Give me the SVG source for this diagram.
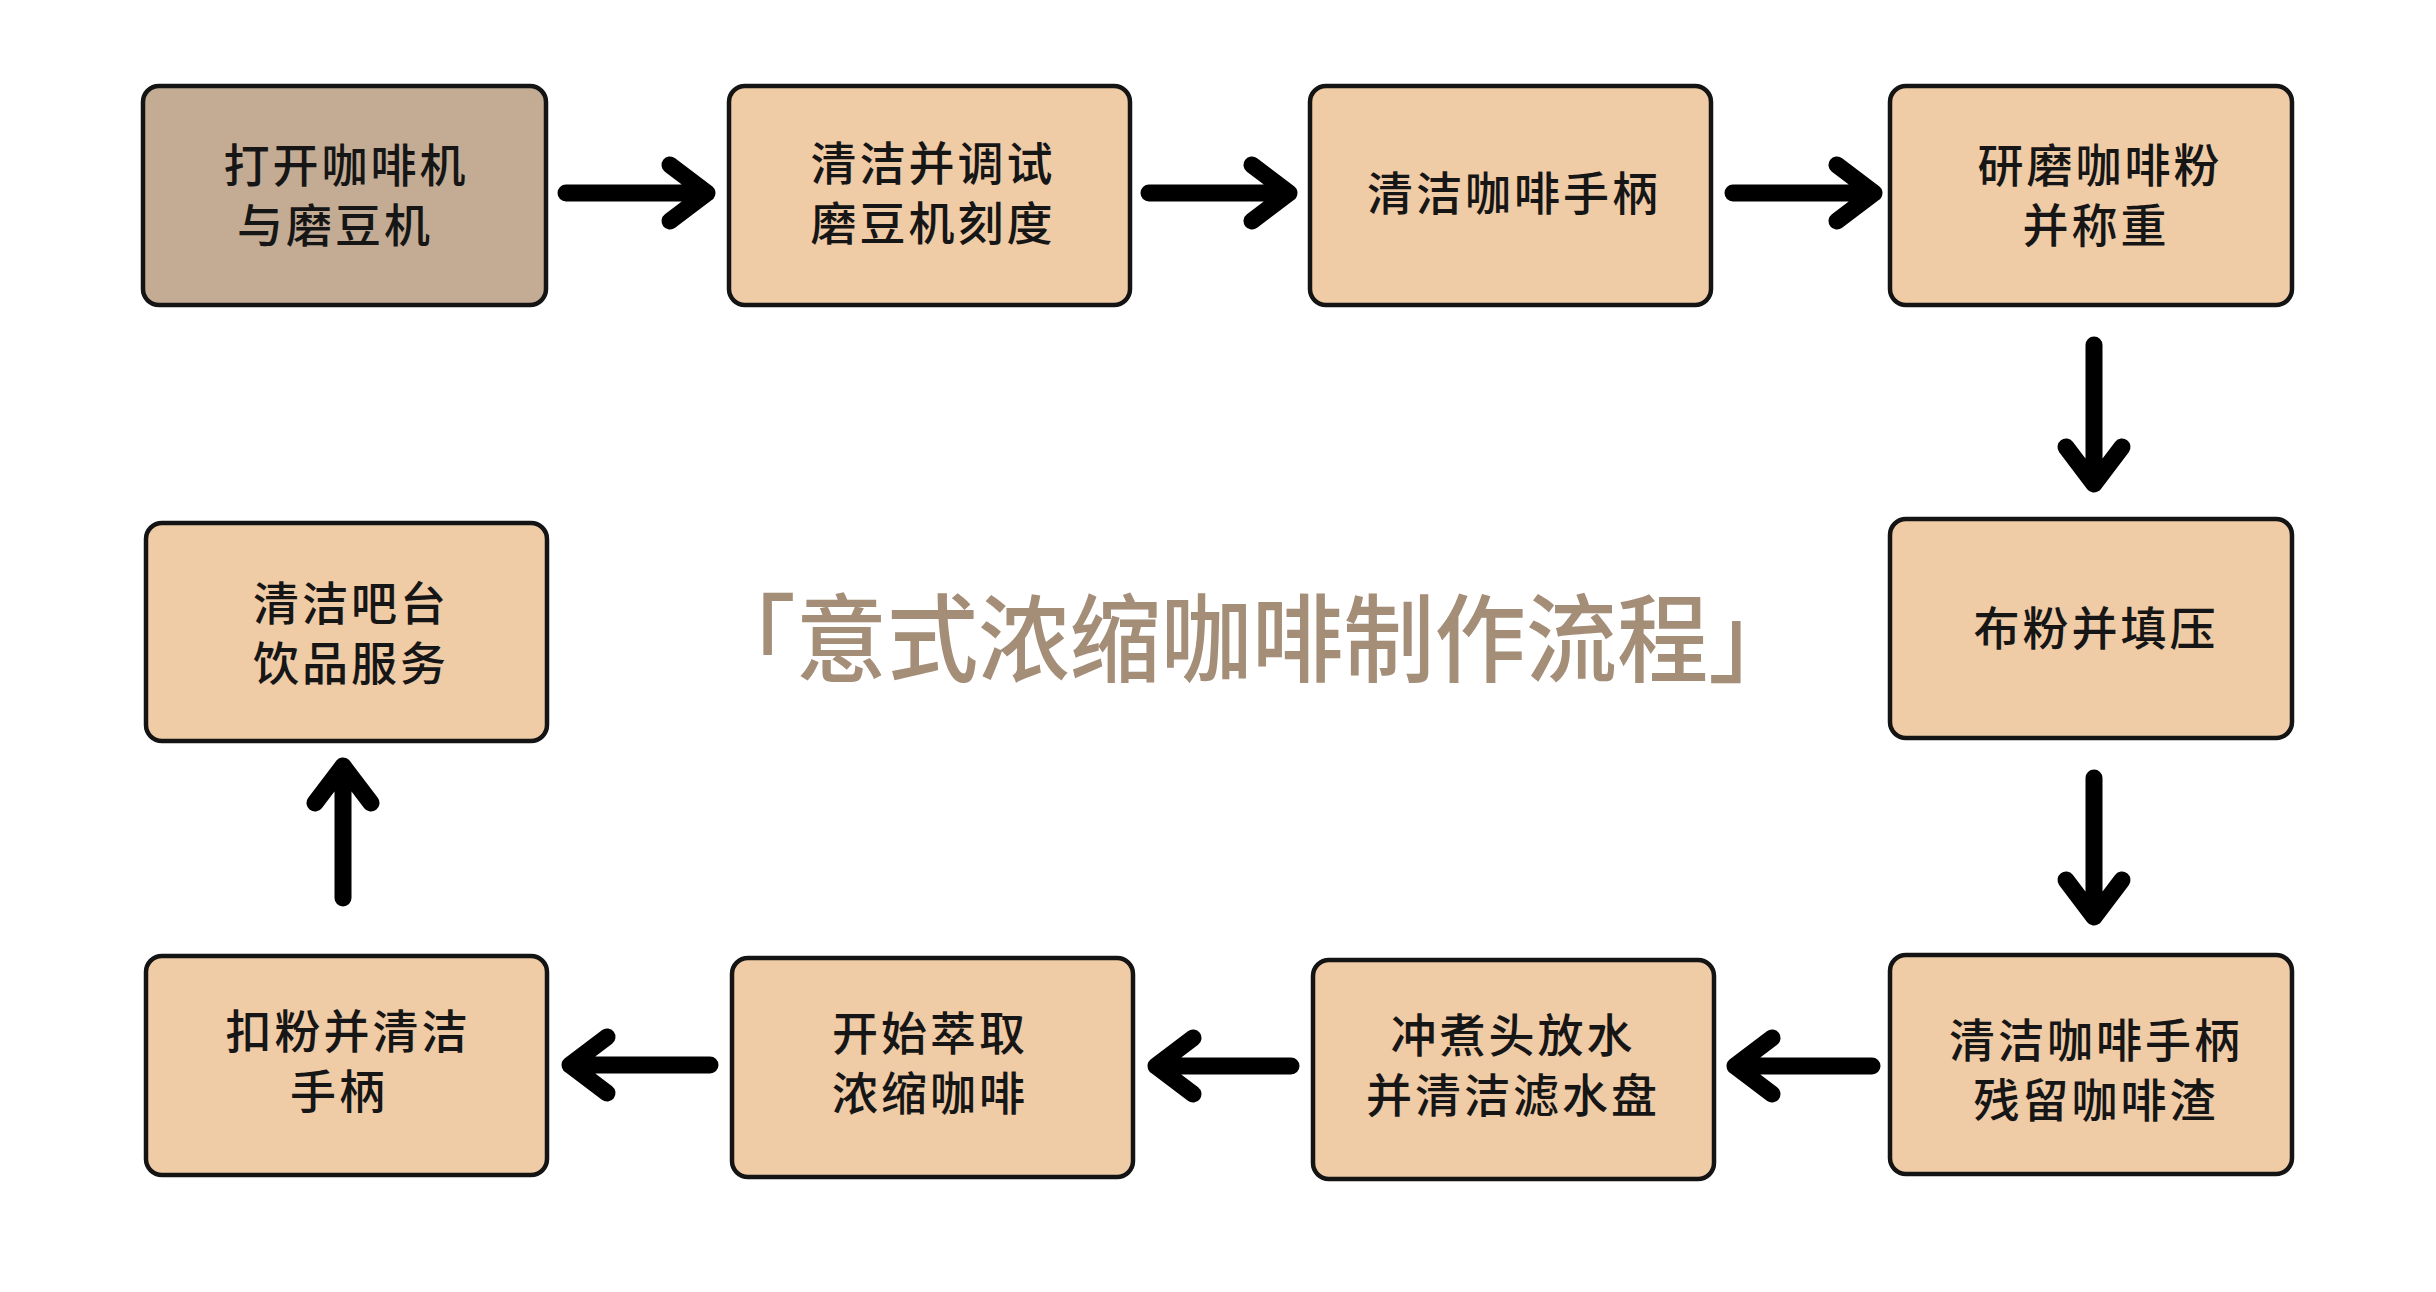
<svg xmlns="http://www.w3.org/2000/svg" width="2436" height="1292" viewBox="0 0 2436 1292">
<style>
.box{fill:#efcba6;stroke:#141414;stroke-width:4.5}
.start{fill:#c4ac94}
.lbl{font-family:"Noto Sans CJK SC","Noto Sans",sans-serif;font-size:46px;font-weight:500;fill:#161616;text-anchor:middle;letter-spacing:3px}
.arr{fill:none;stroke:#000;stroke-width:17;stroke-linecap:round;stroke-linejoin:round}
.title{font-family:"Noto Sans CJK SC","Noto Sans",sans-serif;font-size:96px;font-weight:500;fill:#a48e78;text-anchor:middle}
</style>
<rect width="2436" height="1292" fill="#ffffff"/>
<g id="n1"><rect class="box start" x="143" y="86" width="403" height="219" rx="16"/><text class="lbl" x="346" y="182">打开咖啡机</text><text class="lbl" x="335" y="242">与磨豆机</text></g>
<g id="n2"><rect class="box" x="729" y="86" width="401" height="219" rx="16"/><text class="lbl" x="933" y="180">清洁并调试</text><text class="lbl" x="933" y="240">磨豆机刻度</text></g>
<g id="n3"><rect class="box" x="1310" y="86" width="401" height="219" rx="16"/><text class="lbl" x="1514" y="210">清洁咖啡手柄</text></g>
<g id="n4"><rect class="box" x="1890" y="86" width="402" height="219" rx="16"/><text class="lbl" x="2100" y="182">研磨咖啡粉</text><text class="lbl" x="2096" y="242">并称重</text></g>
<g id="n5"><rect class="box" x="1890" y="519" width="402" height="219" rx="16"/><text class="lbl" x="2096" y="645">布粉并填压</text></g>
<g id="n6"><rect class="box" x="1890" y="955" width="402" height="219" rx="16"/><text class="lbl" x="2096" y="1057">清洁咖啡手柄</text><text class="lbl" x="2096" y="1117">残留咖啡渣</text></g>
<g id="n7"><rect class="box" x="1313" y="960" width="401" height="219" rx="16"/><text class="lbl" x="1513" y="1052">冲煮头放水</text><text class="lbl" x="1513" y="1112">并清洁滤水盘</text></g>
<g id="n8"><rect class="box" x="732" y="958" width="401" height="219" rx="16"/><text class="lbl" x="930" y="1050">开始萃取</text><text class="lbl" x="930" y="1110">浓缩咖啡</text></g>
<g id="n9"><rect class="box" x="146" y="956" width="401" height="219" rx="16"/><text class="lbl" x="348" y="1048">扣粉并清洁</text><text class="lbl" x="339" y="1108">手柄</text></g>
<g id="n10"><rect class="box" x="146" y="523" width="401" height="218" rx="16"/><text class="lbl" x="351" y="620">清洁吧台</text><text class="lbl" x="351" y="680">饮品服务</text></g>
<g id="title"><text class="title" x="1252" y="674" textLength="1095" lengthAdjust="spacingAndGlyphs">「意式浓缩咖啡制作流程」</text></g>
<g id="connectors">
<path class="arr" d="M566,193 H707 M670,165 L707,193 L670,221"/>
<path class="arr" d="M1149,193 H1289 M1252,165 L1289,193 L1252,221"/>
<path class="arr" d="M1733,193 H1874 M1837,165 L1874,193 L1837,221"/>
<path class="arr" d="M2094,345 V484 M2066,447 L2094,484 L2122,447"/>
<path class="arr" d="M2094,778 V917 M2066,880 L2094,917 L2122,880"/>
<path class="arr" d="M1872,1066 H1735 M1772,1038 L1735,1066 L1772,1094"/>
<path class="arr" d="M1291,1066 H1156 M1193,1038 L1156,1066 L1193,1094"/>
<path class="arr" d="M710,1065 H570 M607,1037 L570,1065 L607,1093"/>
<path class="arr" d="M343,898 V766 M315,803 L343,766 L371,803"/>
</g>
</svg>
